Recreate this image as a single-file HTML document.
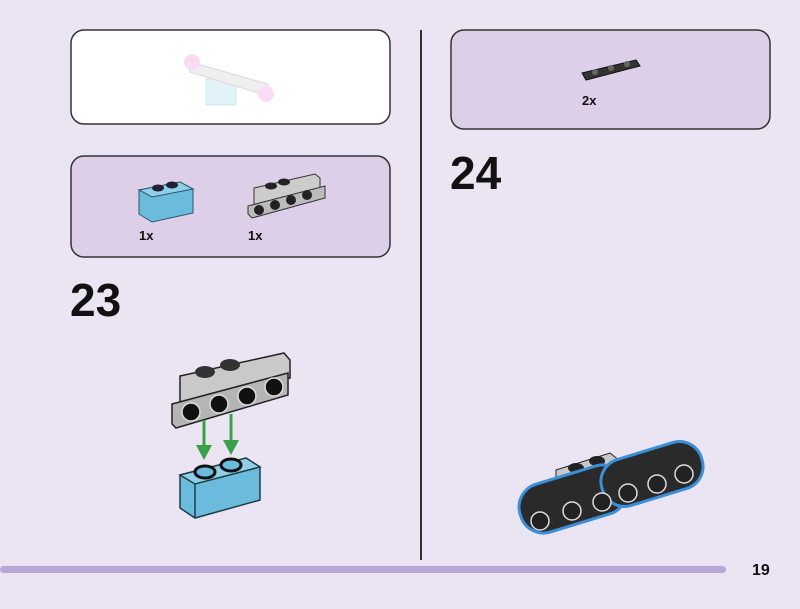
<!DOCTYPE html>
<html><head><style>
body{margin:0;width:800px;height:604px;background:#ebe4f2;overflow:hidden;font-family:"Liberation Sans",sans-serif}
</style></head><body>
<svg width="800" height="604" viewBox="0 0 800 604" xmlns="http://www.w3.org/2000/svg" font-family="Liberation Sans, sans-serif">
<rect width="800" height="604" fill="#ebe4f2"/>
<rect x="71" y="30" width="319" height="94" rx="13" fill="#fff" stroke="#333" stroke-width="1.5"/>
<rect x="71" y="156" width="319" height="101" rx="13" fill="#dccfe7" stroke="#333" stroke-width="1.5"/>
<rect x="451" y="30" width="319" height="99" rx="13" fill="#dccfe7" stroke="#333" stroke-width="1.5"/>
<line x1="421" y1="30" x2="421" y2="560" stroke="#333" stroke-width="2"/>
<rect x="0" y="566" width="726" height="7" rx="3.5" fill="#b9a7d8"/>
<text x="752" y="575" font-size="16" font-weight="bold" fill="#111">19</text>
<text x="70" y="316" font-size="46" font-weight="bold" fill="#111">23</text>
<text x="450" y="189" font-size="46" font-weight="bold" fill="#111">24</text>
<text x="139" y="240" font-size="13" font-weight="bold" fill="#111">1x</text>
<text x="248" y="240" font-size="13" font-weight="bold" fill="#111">1x</text>
<text x="582" y="105" font-size="13" font-weight="bold" fill="#111">2x</text>
<g opacity="0.45">
<rect x="206" y="79" width="30" height="26" fill="#bfe4f2" stroke="#9cc" stroke-width="1"/>
<polygon points="190,62 268,84 268,96 190,72" fill="#ddd" stroke="#aaa"/>
<circle cx="192" cy="62" r="8" fill="#f5b0e8"/>
<circle cx="266" cy="94" r="8" fill="#f5b0e8"/>
</g>
<polygon points="139,190 180,182 193,189 193,213 152,222 139,214" fill="#6bbcdc" stroke="#2a5868" stroke-width="1"/>
<polygon points="139,190 180,182 193,189 152,197" fill="#8fd0e8" stroke="#2a5868" stroke-width="1"/>
<ellipse cx="158" cy="188" rx="6" ry="3.5" fill="#223"/><ellipse cx="172" cy="185" rx="6" ry="3.5" fill="#223"/>
<polygon points="254,188 315,174 320,178 320,190 254,206" fill="#ccc" stroke="#333"/>
<polygon points="248,206 325,186 325,198 252,218 248,214" fill="#bbb" stroke="#333"/>
<g fill="#222"><circle cx="259" cy="210" r="5"/><circle cx="275" cy="205" r="5"/><circle cx="291" cy="200" r="5"/><circle cx="307" cy="195" r="5"/></g>
<ellipse cx="271" cy="186" rx="6" ry="3.5" fill="#222"/><ellipse cx="284" cy="182" rx="6" ry="3.5" fill="#222"/>
<polygon points="582,73 636,60 640,66 586,80" fill="#333" stroke="#111"/>
<g fill="#666"><circle cx="595" cy="72" r="3"/><circle cx="611" cy="68" r="3"/><circle cx="627" cy="64" r="3"/></g>
<polygon points="180,376 284,353 290,360 290,378 180,404" fill="#c9c9c9" stroke="#222" stroke-width="1.5"/>
<ellipse cx="205" cy="372" rx="10" ry="6" fill="#333"/><ellipse cx="230" cy="365" rx="10" ry="6" fill="#333"/>
<polygon points="172,404 288,373 288,395 176,428 172,424" fill="#b5b5b5" stroke="#222" stroke-width="1.5"/>
<g fill="#111" stroke="#ddd" stroke-width="1.5"><circle cx="191" cy="412" r="9"/><circle cx="219" cy="404" r="9"/><circle cx="247" cy="396" r="9"/><circle cx="274" cy="387" r="9"/></g>
<g stroke="#3aa04a" stroke-width="3"><line x1="204" y1="420" x2="204" y2="450"/><line x1="231" y1="414" x2="231" y2="445"/></g>
<g fill="#3aa04a"><polygon points="196,445 212,445 204,460"/><polygon points="223,440 239,440 231,455"/></g>
<polygon points="180,475 246,458 260,467 260,500 195,518 180,508" fill="#6bbcdc" stroke="#1d3e48" stroke-width="1.5"/>
<polygon points="180,475 246,458 260,467 195,484" fill="#8fd0e8" stroke="#1d3e48" stroke-width="1.5"/>
<line x1="195" y1="484" x2="195" y2="518" stroke="#1d3e48" stroke-width="1.5"/>
<ellipse cx="205" cy="472" rx="10" ry="6" fill="#6bbcdc" stroke="#111" stroke-width="3"/>
<ellipse cx="231" cy="465" rx="10" ry="6" fill="#6bbcdc" stroke="#111" stroke-width="3"/>
<g transform="translate(0,8)">
<polygon points="556,462 610,445 620,453 620,480 556,498" fill="#c9c9c9" stroke="#222"/>
<ellipse cx="576" cy="460" rx="8" ry="5" fill="#222"/><ellipse cx="597" cy="453" rx="8" ry="5" fill="#222"/>
<rect x="518" y="466" width="110" height="50" rx="24" transform="rotate(-17 573 491)" fill="#2a2a2a" stroke="#3a8fd8" stroke-width="3"/>
<rect x="600" y="442" width="104" height="48" rx="23" transform="rotate(-17 652 466)" fill="#2a2a2a" stroke="#3a8fd8" stroke-width="3"/>
<g fill="#222" stroke="#ddd" stroke-width="1.5"><circle cx="540" cy="513" r="9"/><circle cx="572" cy="503" r="9"/><circle cx="602" cy="494" r="9"/><circle cx="628" cy="485" r="9"/><circle cx="657" cy="476" r="9"/><circle cx="684" cy="466" r="9"/></g>
</g>
</svg>
</body></html>
